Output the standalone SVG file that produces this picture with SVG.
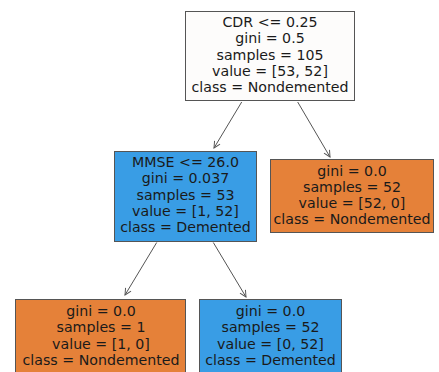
<svg xmlns="http://www.w3.org/2000/svg" width="439" height="372" viewBox="0 0 439 372">
<defs>
<style>
.box{stroke:#555;stroke-width:1}
.split{fill:#fdfcfb}
.orange{fill:#e58139}
.blue{fill:#399de5}
text{font-family:"DejaVu Sans",sans-serif;font-size:14.2px;fill:#1a1a1a;text-anchor:middle}
.edge{stroke:#555;stroke-width:1;fill:none;marker-end:url(#arr)}
</style>
<marker id="arr" viewBox="0 0 10 10" refX="9" refY="5" markerWidth="8" markerHeight="8" orient="auto" markerUnits="userSpaceOnUse">
<path d="M1,1 L9,5 L1,9" fill="none" stroke="#555" stroke-width="1.2"/>
</marker>
</defs>
<rect width="439" height="372" fill="#ffffff"/>
<g id="connectors">
<line class="edge" x1="241.7" y1="102" x2="214" y2="148"/>
<line class="edge" x1="297.7" y1="102" x2="330" y2="157"/>
<line class="edge" x1="156.7" y1="242.5" x2="125" y2="295"/>
<line class="edge" x1="213.3" y1="242.5" x2="246" y2="297"/>
</g>
<g id="root">
<rect class="box split" x="185.5" y="11.5" width="169" height="89"/>
<text x="270" y="27">CDR &lt;= 0.25</text>
<text x="270" y="43.3">gini = 0.5</text>
<text x="270" y="59.6">samples = 105</text>
<text x="270" y="76">value = [53, 52]</text>
<text x="270" y="92">class = Nondemented</text>
</g>
<g id="mmse">
<rect class="box blue" x="114.5" y="151.5" width="142" height="90"/>
<text x="185.5" y="166.7">MMSE &lt;= 26.0</text>
<text x="185.5" y="183.3">gini = 0.037</text>
<text x="185.5" y="199.7">samples = 53</text>
<text x="185.5" y="216">value = [1, 52]</text>
<text x="185.5" y="232">class = Demented</text>
</g>
<g id="leaf_right">
<rect class="box orange" x="270.5" y="159.5" width="163" height="73"/>
<text x="352" y="175.7">gini = 0.0</text>
<text x="352" y="192">samples = 52</text>
<text x="352" y="208.3">value = [52, 0]</text>
<text x="352" y="224.3">class = Nondemented</text>
</g>
<g id="leaf_left">
<rect class="box orange" x="15.5" y="299.5" width="170" height="80"/>
<text x="101" y="316">gini = 0.0</text>
<text x="101" y="332.3">samples = 1</text>
<text x="101" y="348.5">value = [1, 0]</text>
<text x="101" y="364.5">class = Nondemented</text>
</g>
<g id="leaf_mid">
<rect class="box blue" x="199.5" y="299.5" width="142" height="80"/>
<text x="270.5" y="316">gini = 0.0</text>
<text x="270.5" y="332.3">samples = 52</text>
<text x="270.5" y="348.5">value = [0, 52]</text>
<text x="270.5" y="364.5">class = Demented</text>
</g>
</svg>
